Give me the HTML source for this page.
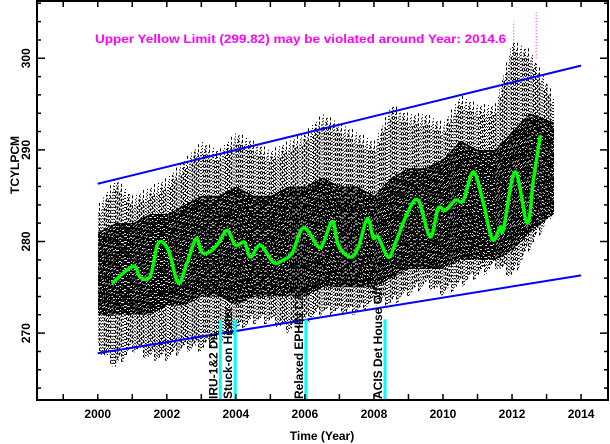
<!DOCTYPE html>
<html><head><meta charset="utf-8"><style>
html,body{margin:0;padding:0;background:#fff}
svg{display:block;font-family:"Liberation Sans",sans-serif}
</style></head><body>
<svg id="chart" width="610" height="444" viewBox="0 0 610 444"></svg>
<script>
// ---- data ----
const smoothYears = [2000.41,2001.02,2001.23,2001.52,2001.75,2002.04,2002.33,2002.59,2002.85,2003.02,2003.26,2003.49,2003.75,2003.99,2004.25,2004.42,2004.71,2005.09,2005.38,2005.64,2005.96,2006.39,2006.54,2006.80,2006.97,2007.32,2007.55,2007.81,2007.98,2008.12,2008.41,2008.62,2008.97,2009.28,2009.63,2009.86,2010.07,2010.36,2010.59,2010.88,2011.17,2011.43,2011.66,2011.75,2012.09,2012.44,2012.62,2012.82];
const smoothValues = [275.4,277.3,276.1,276.2,279.8,279.1,275.5,277.7,280.3,278.8,278.9,279.8,281.2,279.6,279.9,278.3,279.6,277.7,278.0,278.8,281.5,279.4,279.9,282.2,279.6,278.3,279.4,282.5,280.4,280.5,278.3,279.8,283.1,284.5,280.5,283.6,283.4,284.5,284.5,287.6,284.2,280.2,281.6,281.3,287.6,282.0,286.7,291.6];
const envYears = [2000,2000.5,2001,2001.5,2002,2002.5,2003,2003.5,2004,2004.5,2005,2005.5,2006,2006.5,2007,2007.5,2008,2008.5,2009,2009.5,2010,2010.5,2011,2011.5,2012,2012.5,2013.2];
const envHi = [284,287,285,286,287,289,291,290,292,291,290,291,292,294,293,292,291,295,294,294,293,296,295,295,302,301,296];
const envCoreHi = [281,282,282,283,283,284,285,285,286,285,285,286,286,287,286,286,285,287,288,288,289,291,290,290,292,294,293];
const envCoreLo = [272,272,272,272,273,273,274,274,273,274,274,274,274,275,275,275,275,276,277,277,277,278,278,278,279,281,283];
const envLo = [268,266,268,267,267,268,268,269,270,271,271,270,271,272,272,272,273,273,274,275,274,275,276,277,276,279,283];
const upperLimit = [[2000,286.3],[2014,299.2]];
const lowerLimit = [[2000,267.8],[2014,276.3]];
const xTicks = [2000,2002,2004,2006,2008,2010,2012,2014];
const yTicks = [270,280,290,300];
const events = [{year:2003.55,label:"IRU-1&2 Dit"},{year:2003.98,label:"Stuck-on Heater"},{year:2006.03,label:"Relaxed EPHIN CA"},{year:2008.32,label:"ACIS Det House Off"}];
// ---- axes ----
const L=37,R=608,T=1,B=400;
const X0=1998.24,X1=2014.78,Y0=262.7,Y1=306.25;
const sx=v=>L+(v-X0)/(X1-X0)*(R-L);
const sy=v=>B-(v-Y0)/(Y1-Y0)*(B-T);
const svg=document.getElementById('chart');
const NS='http://www.w3.org/2000/svg';
function mk(tag,attrs,parent){const e=document.createElementNS(NS,tag);for(const k in attrs)e.setAttribute(k,attrs[k]);(parent||svg).appendChild(e);return e;}
function interp(xs,ys,x){if(x<=xs[0])return ys[0];for(let i=1;i<xs.length;i++){if(x<=xs[i]){const t=(x-xs[i-1])/(xs[i]-xs[i-1]);return ys[i-1]+t*(ys[i]-ys[i-1]);}}return ys[ys.length-1];}
// scatter
const sc=mk('g',{});


const xa=Math.round(sx(envYears[0])),xb=Math.round(sx(envYears[envYears.length-1]));
for(let px=xa;px<=xb;px++){
  const yr=X0+(px-L)/(R-L)*(X1-X0);
  const hi=interp(envYears,envHi,yr),lo=interp(envYears,envLo,yr);
  const ch=interp(envYears,envCoreHi,yr),cl=interp(envYears,envCoreLo,yr);
  const jit=(px*37)%11;
  const a=mk('line',{x1:px+0.5,x2:px+0.5,y1:sy(hi)+(jit%5)*3,y2:sy(lo)-(jit%4)*3,stroke:'#000','stroke-width':1,'stroke-dasharray':(jit%3===0?'3 2':'1 2'),'stroke-dashoffset':jit},sc);
  
  
  const b=mk('line',{x1:px+0.5,x2:px+0.5,y1:sy(ch),y2:sy(cl),stroke:'#000','stroke-width':1,'stroke-dasharray':(jit%2?'4 1 2 1':'3 1'),'stroke-dashoffset':jit*2},sc);
  
  
}
// magenta exceedances
[[2012.05,300,304],[2012.7,300,305]].forEach(m=>{
  const e=mk('line',{x1:sx(m[0]),x2:sx(m[0]),y1:sy(m[1]),y2:sy(m[2]),stroke:'#f0f','stroke-width':1,'stroke-dasharray':'1 2'});
  
  
});
// limit lines
[upperLimit,lowerLimit].forEach((ln,i)=>{
  const e=mk('line',{x1:sx(ln[0][0]),y1:sy(ln[0][1]),x2:sx(ln[1][0]),y2:sy(ln[1][1]),stroke:'#0000ff','stroke-width':2});
  
  
});
// smooth line (Catmull-Rom)
const P=smoothYears.map((y,i)=>[sx(y),sy(smoothValues[i])]);
let sd=`M${P[0][0]},${P[0][1]}`;
for(let i=0;i<P.length-1;i++){
  const p0=P[Math.max(0,i-1)],p1=P[i],p2=P[i+1],p3=P[Math.min(P.length-1,i+2)];
  sd+=`C${p1[0]+(p2[0]-p0[0])/6},${p1[1]+(p2[1]-p0[1])/6} ${p2[0]-(p3[0]-p1[0])/6},${p2[1]-(p3[1]-p1[1])/6} ${p2[0]},${p2[1]}`;
}
const sp=mk('path',{d:sd,fill:'none',stroke:'#00ff00','stroke-width':3.5,'stroke-linejoin':'round'});


// events
events.forEach(ev=>{
  const x=sx(ev.year);
  const l=mk('line',{x1:x,x2:x,y1:sy(271.5),y2:B,stroke:'#00ffff','stroke-width':3});
  
  
  const t=mk('text',{x:0,y:0,transform:`translate(${x-3},${B-1}) rotate(-90)`,'font-size':12,'font-weight':'bold',fill:'#000'});
  t.textContent=ev.label;
  
  
});
// frame & ticks
const fr=mk('rect',{x:L,y:T,width:R-L,height:B-T,fill:'none',stroke:'#000','stroke-width':2});


let tk='';
for(let y=1999;y<=2014;y++){const x=sx(y);tk+=`M${x},${B}v-6M${x},${T}v6`;}
for(let v=264;v<=306;v+=2){const y=sy(v);const len=(v%10===0)?8:4;tk+=`M${L},${y}h${len}M${R},${y}h-${len}`;}
const tp=mk('path',{d:tk,stroke:'#000','stroke-width':1.5,fill:'none'});


xTicks.forEach(v=>{
  const t=mk('text',{x:sx(v),y:418,'text-anchor':'middle','font-size':12,'font-weight':'bold',fill:'#000'});
  t.textContent=v;
  
  
});
yTicks.forEach(v=>{
  const t=mk('text',{x:0,y:0,transform:`translate(30,${sy(v)}) rotate(-90)`,'text-anchor':'middle','font-size':12,'font-weight':'bold',fill:'#000'});
  t.textContent=v;
  
  
});
const xt=mk('text',{x:322,y:440,'text-anchor':'middle','font-size':12,'font-weight':'bold',fill:'#000'});
xt.textContent='Time (Year)';


const yt=mk('text',{x:0,y:0,transform:'translate(19,165) rotate(-90)','text-anchor':'middle','font-size':12,'font-weight':'bold',fill:'#000'});
yt.textContent='TCYLPCM';


const ti=mk('text',{x:95,y:43,'font-size':12,'font-weight':'bold',fill:'#ff00ff',textLength:411,lengthAdjust:'spacingAndGlyphs'});
ti.textContent='Upper Yellow  Limit (299.82) may be violated around Year: 2014.6';


</script>
</body></html>
